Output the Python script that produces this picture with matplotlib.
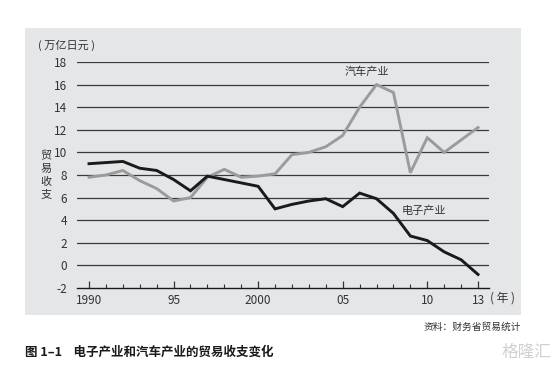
import matplotlib
matplotlib.use("Agg")
import matplotlib.pyplot as plt
from matplotlib.patches import Rectangle

plt.rcParams['font.family'] = ['Noto Sans CJK SC', 'DejaVu Sans']

# data (trillion yen)
years = list(range(1990, 2014))
auto = [7.8, 8.0, 8.4, 7.5, 6.8, 5.7, 6.0, 7.8, 8.5, 7.8, 7.9, 8.1,
        9.8, 10.0, 10.5, 11.5, 14.0, 16.0, 15.3, 8.2, 11.3, 10.0, 11.1, 12.2]
elec = [9.0, 9.1, 9.2, 8.6, 8.4, 7.6, 6.6, 7.9, 7.6, 7.3, 7.0, 5.0,
        5.4, 5.7, 5.9, 5.2, 6.4, 5.9, 4.6, 2.6, 2.2, 1.2, 0.5, -0.8]
xticks = [1990, 1995, 2000, 2005, 2010, 2013]
xlabels = ["1990", "95", "2000", "05", "10", "13"]
yticks = list(range(-2, 20, 2))

W, H = 559, 370
fig = plt.figure(figsize=(W / 100, H / 100), dpi=100)
fig.patch.set_facecolor("white")

# gray panel behind the chart
fig.patches.append(Rectangle((25 / W, 1 - 315 / H), (521 - 25) / W, (315 - 28) / H,
                             transform=fig.transFigure, facecolor="#e5e6e8",
                             edgecolor="none", zorder=-10))

ax = fig.add_axes([77 / W, 1 - 288 / H, (489 - 77) / W, (288 - 62) / H])
ax.set_zorder(1)
ax.set_facecolor("none")
ax.set_xlim(1989.29, 2013.65)
ax.set_ylim(-2, 18)

for v in range(0, 20, 2):
    ax.axhline(v, color="#3a3a3a", lw=0.9, zorder=1)

ax.plot(years, auto, color="#9b9b9b", lw=2.1, zorder=3, solid_joinstyle="miter")
ax.plot(years, elec, color="#1a1a1a", lw=2.1, zorder=4, solid_joinstyle="miter")

for s in ["top", "right", "left"]:
    ax.spines[s].set_visible(False)
ax.spines["bottom"].set_color("#1a1a1a")
ax.spines["bottom"].set_linewidth(1.0)

ax.set_xticks(xticks)
ax.set_xticklabels(xlabels)
ax.set_xticks(years, minor=True)
ax.tick_params(axis="x", which="major", direction="in", length=5, width=0.9,
               color="#333333", labelsize=8.5, labelcolor="#333333", pad=4)
ax.tick_params(axis="x", which="minor", direction="in", length=3, width=0.8,
               color="#333333")
ax.set_yticks(yticks)
ax.set_yticklabels([str(v) for v in yticks])
ax.tick_params(axis="y", length=0, labelsize=8.5, labelcolor="#333333", pad=7)

ax.text(2005.1, 16.9, "汽车产业", fontsize=8, color="#333333")
ax.text(2008.5, 4.6, "电子产业", fontsize=8, color="#333333")

fig.text(490 / W, 1 - 298 / H, "( 年 )", fontsize=8.5, color="#333333",
         va="center", ha="left")
fig.text(38 / W, 1 - 45 / H, "( 万亿日元 )", fontsize=8, color="#333333",
         va="center", ha="left")
# stacked vertical label, one character per line
for i, ch in enumerate("贸易收支"):
    fig.text(46 / W, 1 - (156 + i * 13) / H, ch, fontsize=8, color="#333333",
             va="center", ha="center")

fig.text(521 / W, 1 - 327 / H, "资料：财务省贸易统计", fontsize=7, color="#333333",
         va="center", ha="right")
fig.text(25 / W, 1 - 352 / H, "图 1–1    电子产业和汽车产业的贸易收支变化", fontsize=9,
         fontweight="bold", color="#1a1a1a", va="center", ha="left")
fig.text(551 / W, 1 - 352 / H, "格隆汇", fontsize=12, color="#d0d0d0",
         va="center", ha="right")

fig.savefig("out.png", dpi=100)
